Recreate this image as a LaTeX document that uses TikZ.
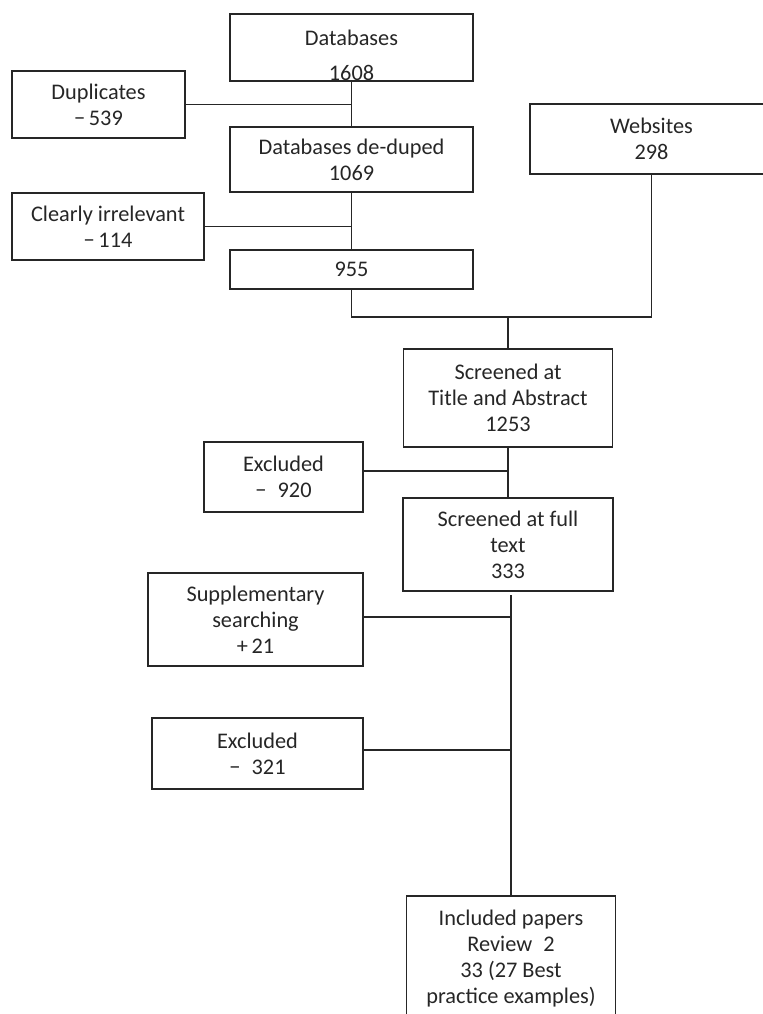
\documentclass[tikz,border=0pt]{standalone}
\usepackage{fontspec}
\setmainfont{Carlito}
\usepackage{tikz}
\usetikzlibrary{positioning,calc}

\begin{document}
\begin{tikzpicture}
[x=0.02cm,y=-0.02cm, line width=0.8pt, draw=black!85,
box/.style={rectangle,draw=black!85,line width=0.9pt,text=black!85,align=center,
 inner sep=0pt,font=\fontsize{12.7}{14.7}\selectfont},
sz/.style 2 args={minimum width=#1*0.02cm,minimum height=#2*0.02cm}]
\useasboundingbox (0,0) rectangle (763,1014);

\node (db) at (351.5,47.5)[box,sz={243}{67}] {\rule{0pt}{18pt}Databases\\[5pt]1608};
\node (dup) at (98.5,104.5)[box,sz={173}{67}] {Duplicates\\−\,539};
\node (dd) at (351.5,159.5)[box,sz={243}{65}] {Databases de-duped\\1069};
\node (irr) at (108,226.5)[box,sz={192}{67}] {Clearly irrelevant\\−\,114};
\node (n955) at (351.5,269.5)[box,sz={243}{39}] {955};
\node (web) at (651.5,139)[box,sz={243}{70}] {Websites\\298};
\node (tiab) at (508,398)[box,sz={209}{98}] {Screened at\\Title and Abstract\\1253};
\node (ex1) at (283.5,477)[box,sz={159}{70}] {Excluded\\−\enspace920};
\node (full) at (508,544.5)[box,sz={210}{93}] {Screened at full\\text\\333};
\node (supp) at (255.5,619.5)[box,sz={215}{93}] {Supplementary\\searching\\+\,21};
\node (ex2) at (257.5,753.5)[box,sz={211}{71}] {Excluded\\−\enspace321};
\node (inc) at (511,958.5)[box,sz={209}{125}] {Included papers\\Review\enspace2\\33 (27 Best\\practice examples)};

\coordinate (j1) at (508,317);
\coordinate (j2) at (508,471);
\coordinate (t) at (511,595);

\draw (db) -- (dd);
\draw (dup.east) -- (dup.east -| db.south);
\draw (dd) -- (n955);
\draw (irr.east) -- (irr.east -| dd.south);
\draw (n955.south) -- (n955.south |- j1) -- (web.south |- j1) -- (web.south);
\draw (j1) -- (tiab.north);

\draw (tiab.south) -- (full.north);
\draw (ex1.east |- j2) -- (j2);

\draw (t) -- (inc.north);
\draw (supp.east |- 0,617) -- (t |- 0,617);
\draw (ex2.east |- 0,750) -- (t |- 0,750);

\end{tikzpicture}
\end{document}
